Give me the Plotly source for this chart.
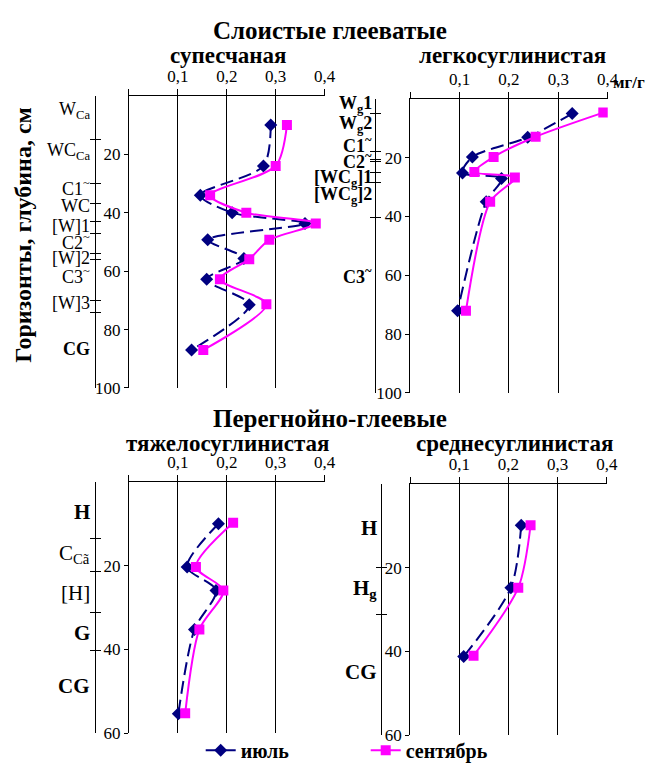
import plotly.graph_objects as go

W, H = 654, 767

# ---------------- data ----------------
titles_top = "Слоистые глееватые"
titles_bottom = "Перегнойно-глеевые"
subtitles = ["супесчаная", "легкосуглинистая", "тяжелосуглинистая", "среднесуглинистая"]
series_names = ["<b>июль</b>", "<b>сентябрь</b>"]
x_tick_vals = [0, 0.1, 0.2, 0.3, 0.4]
x_tick_text = ["", "0,1", "0,2", "0,3", "0,4"]

# panel 1: супесчаная
p1_depth_jul = [10, 24, 34, 40, 43.7, 49.3, 55.7, 62.8, 71.5, 87]
p1_jul = [0.290, 0.275, 0.146, 0.211, 0.360, 0.161, 0.235, 0.159, 0.246, 0.128]
p1_depth_sep = [10, 24, 34, 40, 43.7, 49.3, 55.9, 62.8, 71.3, 87]
p1_sep = [0.323, 0.300, 0.166, 0.240, 0.382, 0.287, 0.246, 0.186, 0.281, 0.152]
p1_bounds = [15, 30, 37, 43, 47, 54, 56, 70, 74]
p1_hor_names = ["W<sub>Ca</sub>", "WC<sub>Ca</sub>", "C1<sup>~</sup>", "WC", "[W]1",
                "C2<sup>~</sup>", "[W]2", "C3<sup>~</sup>", "[W]3", "<b>CG</b>"]
p1_hor_depth = [5, 19, 31.5, 37.8, 44.6, 50, 55.4, 61.5, 71, 86.5]

# panel 2: легкосуглинистая
p2_depth_jul = [5.0, 13.1, 19.8, 25.2, 27.1, 35, 72.1]
p2_jul = [0.328, 0.238, 0.126, 0.106, 0.185, 0.154, 0.096]
p2_depth_sep = [4.7, 12.9, 19.8, 24.9, 26.8, 35, 72.1]
p2_sep = [0.391, 0.254, 0.169, 0.130, 0.212, 0.162, 0.113]
p2_bounds = [5, 18, 20.6, 21.2, 25, 28.4, 40.5]
p2_hor_names = ["<b>W<sub>g</sub>1</b>", "<b>W<sub>g</sub>2</b>", "<b>C1<sup>~</sup></b>",
                "<b>C2<sup>~</sup></b>", "<b>[WC<sub>g</sub>]1</b>", "<b>[WC<sub>g</sub>]2</b>",
                "<b>C3<sup>~</sup></b>"]
p2_hor_depth = [2, 8.7, 15.4, 21, 27, 33, 60]

# panel 3: тяжелосуглинистая
p3_depth_jul = [10, 20.3, 25.9, 35.2, 55.3]
p3_jul = [0.183, 0.119, 0.178, 0.134, 0.101]
p3_depth_sep = [9.8, 20.3, 25.9, 35.2, 55.2]
p3_sep = [0.213, 0.137, 0.193, 0.144, 0.115]
p3_bounds = [13.6, 21.4, 31.2, 40.3]
p3_hor_names = ["<b>H</b>", "C<sub>Cã</sub>", "[H]", "<b>G</b>", "<b>CG</b>"]
p3_hor_depth = [7.3, 17.2, 26.6, 36, 48.7]

# panel 4: среднесуглинистая
p4_depth_jul = [9.9, 24.8, 41.2]
p4_jul = [0.226, 0.205, 0.109]
p4_depth_sep = [9.9, 24.8, 41.0]
p4_sep = [0.245, 0.220, 0.129]
p4_bounds = [20, 31.2]
p4_hor_names = ["<b>H</b>", "<b>H<sub>g</sub></b>", "<b>CG</b>"]
p4_hor_depth = [10.5, 25.2, 45]

# ---------------- layout geometry (pixels) ----------------
panels = [
    dict(x0=123, x1=322, y0=89, y1=385, ymax=100, yticks=[20, 40, 60, 80, 100], hx=88, lx=85,
         jx=p1_jul, jy=p1_depth_jul, sx=p1_sep, sy=p1_depth_sep, b=p1_bounds,
         hn=p1_hor_names, hd=p1_hor_depth, fs=18),
    dict(x0=409, x1=610, y0=92, y1=390, ymax=100, yticks=[20, 40, 60, 80, 100], hx=373, lx=372,
         jx=p2_jul, jy=p2_depth_jul, sx=p2_sep, sy=p2_depth_sep, b=p2_bounds,
         hn=p2_hor_names, hd=p2_hor_depth, fs=18),
    dict(x0=123, x1=322, y0=480, y1=735, ymax=60, yticks=[20, 40, 60], hx=88, lx=85,
         jx=p3_jul, jy=p3_depth_jul, sx=p3_sep, sy=p3_depth_sep, b=p3_bounds,
         hn=p3_hor_names, hd=p3_hor_depth, fs=21),
    dict(x0=409, x1=609, y0=482, y1=737, ymax=60, yticks=[20, 40, 60], hx=379, lx=377,
         jx=p4_jul, jy=p4_depth_jul, sx=p4_sep, sy=p4_depth_sep, b=p4_bounds,
         hn=p4_hor_names, hd=p4_hor_depth, fs=21),
]

SERIF = "Liberation Serif, Times New Roman, serif"
NAVY = "#000080"
MAG = "#FF00FF"

def px(x):
    return x / W

def py(y):
    return 1 - y / H

fig = go.Figure()
layout = {}
annotations = []

for i, p in enumerate(panels, start=1):
    xa = f"x{i}" if i > 1 else "x"
    ya = f"y{i}" if i > 1 else "y"
    xdom = [px(p["x0"]), px(p["x1"])]
    ydom = [py(p["y1"]), py(p["y0"])]
    yr = [p["ymax"], 0]

    layout[f"xaxis{i}"] = dict(domain=xdom, range=[0, 0.4], side="top", anchor=ya,
                               tickvals=x_tick_vals, ticktext=x_tick_text, ticks="outside",
                               ticklen=6, tickcolor="black", showline=True, linecolor="black",
                               linewidth=1, showgrid=False, zeroline=False,
                               tickfont=dict(family=SERIF, size=17, color="black"))
    layout[f"yaxis{i}"] = dict(domain=ydom, range=yr, anchor=xa, tickvals=p["yticks"],
                               ticks="outside", ticklen=4, tickcolor="black", showline=True,
                               linecolor="black", linewidth=1, showgrid=False, zeroline=False,
                               tickfont=dict(family=SERIF, size=17, color="black"))
    # grid overlay axis
    gx = 4 + i
    layout[f"xaxis{gx}"] = dict(overlaying=xa, range=[0, 0.4], anchor=ya, side="top",
                                tickvals=[0.1, 0.2, 0.3], showticklabels=False, ticks="",
                                showgrid=True, gridcolor="black", gridwidth=1.3,
                                showline=False, zeroline=False)
    fig.add_trace(go.Scatter(x=[None], y=[None], xaxis=f"x{gx}", yaxis=ya,
                             showlegend=False, hoverinfo="skip"))
    # horizon boundary axes (ticks both sides)
    for k, tk in ((4 + i, "outside"), (8 + i, "inside")):
        layout[f"yaxis{k}"] = dict(overlaying=ya, anchor="free", position=px(p["hx"]),
                                   side="left", range=yr, tickvals=p["b"], ticks=tk,
                                   ticklen=5, tickcolor="black", showticklabels=False,
                                   showline=True, linecolor="black", linewidth=1,
                                   showgrid=False, zeroline=False)
        fig.add_trace(go.Scatter(x=[None], y=[None], xaxis=xa, yaxis=f"y{k}",
                                 showlegend=False, hoverinfo="skip"))

    fig.add_trace(go.Scatter(x=p["jx"], y=p["jy"], xaxis=xa, yaxis=ya, mode="lines+markers",
                             name=series_names[0], showlegend=(i == 1),
                             line=dict(color=NAVY, width=2, dash="13px,6px", shape="spline",
                                       smoothing=0.8),
                             marker=dict(symbol="diamond", size=10, color=NAVY)))
    fig.add_trace(go.Scatter(x=p["sx"], y=p["sy"], xaxis=xa, yaxis=ya, mode="lines+markers",
                             name=series_names[1], showlegend=(i == 1),
                             line=dict(color=MAG, width=2, shape="spline", smoothing=0.8),
                             marker=dict(symbol="square", size=10, color=MAG)))

    for name, d in zip(p["hn"], p["hd"]):
        annotations.append(dict(text=name, x=px(p["lx"]), xref="paper", y=d, yref=ya,
                                xanchor="right", yanchor="middle", showarrow=False,
                                font=dict(family=SERIF, size=p["fs"], color="black")))

# titles
def text_ann(t, x, y, size, bold=True, angle=0):
    return dict(text=f"<b>{t}</b>" if bold else t, x=px(x), y=py(y), xref="paper", yref="paper",
                xanchor="center", yanchor="middle", showarrow=False, textangle=angle,
                font=dict(family=SERIF, size=size, color="black"))

annotations.append(text_ann(titles_top, 328, 23, 25))
annotations.append(text_ann(titles_bottom, 328, 416, 25))
annotations.append(text_ann(subtitles[0], 224, 48, 23))
annotations.append(text_ann(subtitles[1], 513, 48, 23))
annotations.append(text_ann(subtitles[2], 224, 441, 23))
annotations.append(text_ann(subtitles[3], 515, 441, 23))
annotations.append(text_ann("мг/г", 632, 75, 17))
annotations.append(text_ann("Горизонты, глубина, см", 15, 230, 24, angle=-90))

fig.update_layout(**layout)
fig.update_layout(
    width=W, height=H, margin=dict(l=0, r=0, t=0, b=0),
    paper_bgcolor="white", plot_bgcolor="white",
    separators=", ",
    annotations=annotations,
    showlegend=True,
    legend=dict(orientation="h", x=px(196), y=py(752), xanchor="left", yanchor="middle",
                font=dict(family=SERIF, size=20, color="black"), bgcolor="rgba(0,0,0,0)",
                entrywidth=120, entrywidthmode="pixels"),
)

fig.write_html("out.html")
